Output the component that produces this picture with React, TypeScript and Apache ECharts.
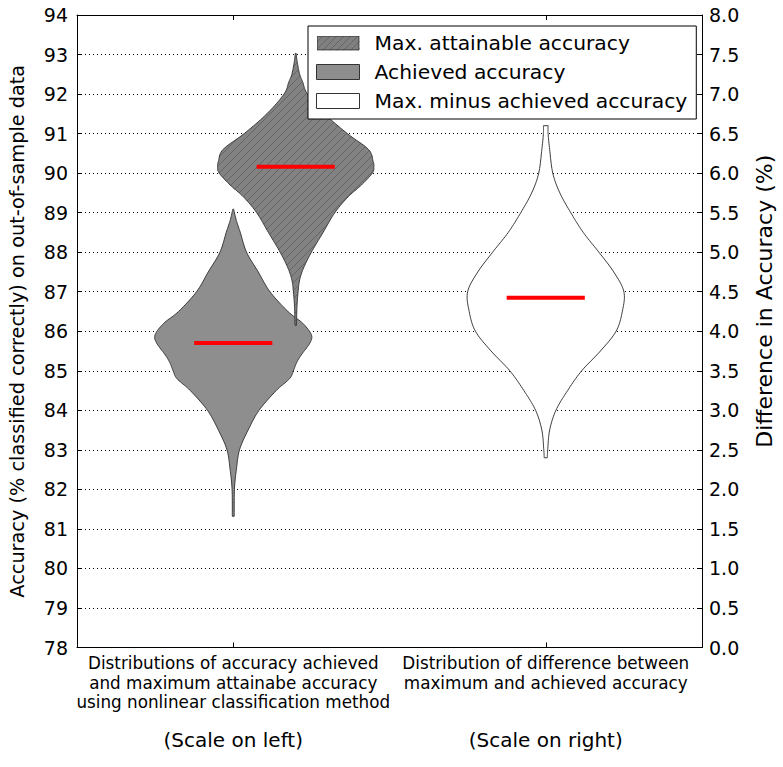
import React, { useEffect, useRef } from 'react';
import * as echarts from 'echarts';

const categories = [
  'Distributions of accuracy achieved\nand maximum attainabe accuracy\nusing nonlinear classification method',
  'Distribution of difference between\nmaximum and achieved accuracy',
];
const scaleNotes = ['(Scale on left)', '(Scale on right)'];
const seriesNames = ['Max. attainable accuracy', 'Achieved accuracy', 'Max. minus achieved accuracy'];

const leftMin = 78;
const leftMax = 94;
const leftStep = 1;
const rightMin = 0;
const rightMax = 8;
const rightStep = 0.5;

// violin outlines: value, relative half-width (1 = widest)
const maxAttainableValues = [93.03, 92.8, 92.5, 92.3, 92.0, 91.5, 91.0, 90.6, 90.3, 90.16, 90.0, 89.7, 89.4, 89.0, 88.5, 88.0, 87.6, 87.3, 87.0, 86.6, 86.15];
const maxAttainableWidths = [0.005, 0.02, 0.05, 0.09, 0.15, 0.37, 0.66, 0.93, 0.99, 1.0, 0.98, 0.84, 0.67, 0.5, 0.35, 0.2, 0.1, 0.05, 0.03, 0.015, 0.01];
const maxAttainableMedian = 90.16;

const achievedValues = [89.09, 88.8, 88.5, 88.0, 87.5, 87.0, 86.5, 86.2, 85.91, 85.7, 85.4, 85.2, 85.0, 84.8, 84.5, 84.0, 83.5, 83.0, 82.5, 82.0, 81.32];
const achievedWidths = [0.005, 0.04, 0.09, 0.17, 0.32, 0.47, 0.7, 0.89, 1.0, 0.98, 0.87, 0.81, 0.77, 0.72, 0.55, 0.33, 0.19, 0.08, 0.04, 0.015, 0.012];
const achievedMedian = 85.7;

const diffValues = [6.6, 6.5, 6.3, 6.0, 5.75, 5.5, 5.25, 5.0, 4.75, 4.5, 4.25, 4.0, 3.75, 3.5, 3.25, 3.0, 2.75, 2.5, 2.4];
const diffWidths = [0.03, 0.03, 0.05, 0.09, 0.18, 0.32, 0.48, 0.68, 0.87, 1.0, 0.98, 0.9, 0.7, 0.46, 0.28, 0.13, 0.05, 0.025, 0.02];
const diffMedian = 4.425;

const FONT = 'DejaVu Sans';

function smoothProfile(pts: number[][], steps = 10) {
  const out: number[][] = [];
  const n = pts.length;
  for (let i = 0; i < n - 1; i++) {
    const p0 = pts[Math.max(i - 1, 0)];
    const p1 = pts[i];
    const p2 = pts[i + 1];
    const p3 = pts[Math.min(i + 2, n - 1)];
    for (let s = 0; s < steps; s++) {
      const t = s / steps;
      const t2 = t * t;
      const t3 = t2 * t;
      const f = (a: number, b: number, c: number, d: number) =>
        0.5 * (2 * b + (-a + c) * t + (2 * a - 5 * b + 4 * c - d) * t2 + (-a + 3 * b - 3 * c + d) * t3);
      out.push([f(p0[0], p1[0], p2[0], p3[0]), Math.max(0, f(p0[1], p1[1], p2[1], p3[1]))]);
    }
  }
  out.push(pts[n - 1]);
  return out;
}

function hatchLines(poly: number[][], step: number) {
  let minS = Infinity;
  let maxS = -Infinity;
  poly.forEach((p) => {
    const s = p[0] + p[1];
    if (s < minS) minS = s;
    if (s > maxS) maxS = s;
  });
  const lines: any[] = [];
  for (let c = Math.ceil(minS / step) * step; c <= maxS; c += step) {
    const xs: number[][] = [];
    for (let i = 0; i < poly.length; i++) {
      const a = poly[i];
      const b = poly[(i + 1) % poly.length];
      const fa = a[0] + a[1] - c;
      const fb = b[0] + b[1] - c;
      if (fa < 0 !== fb < 0) {
        const t = fa / (fa - fb);
        xs.push([a[0] + (b[0] - a[0]) * t, a[1] + (b[1] - a[1]) * t]);
      }
    }
    xs.sort((p, q) => p[0] - q[0]);
    for (let k = 0; k + 1 < xs.length; k += 2) {
      lines.push({
        type: 'line',
        shape: { x1: xs[k][0], y1: xs[k][1], x2: xs[k + 1][0], y2: xs[k + 1][1] },
        style: { stroke: '#5e5e5e', lineWidth: 0.8 },
        silent: true,
      });
    }
  }
  return lines;
}

function violinSeries(
  name: string,
  values: number[],
  widths: number[],
  median: number,
  cat: number,
  offsetFrac: number,
  yAxisIndex: number,
  fill: string,
  hatched: boolean,
  z: number
) {
  return {
    type: 'custom',
    name,
    xAxisIndex: 0,
    yAxisIndex,
    z,
    clip: false,
    itemStyle: { color: fill, borderColor: '#333', borderWidth: 1 },
    data: [[cat, median]],
    renderItem: (params: any, api: any) => {
      const c = api.value(0);
      const band = api.size([1, 0])[0];
      const center = api.coord([c, median]);
      const cx = center[0] + offsetFrac * band;
      const maxHw = band * 0.25;
      const prof = values.map((v, i) => [api.coord([c, v])[1], widths[i]]);
      const sm = smoothProfile(prof);
      const left = sm.map((p) => [cx - p[1] * maxHw, p[0]]);
      const right = sm.map((p) => [cx + p[1] * maxHw, p[0]]).reverse();
      const poly = left.concat(right);
      const children: any[] = [
        {
          type: 'polygon',
          shape: { points: poly },
          style: { fill, stroke: 'none' },
        },
      ];
      if (hatched) children.push(...hatchLines(poly, 8));
      children.push({
        type: 'polygon',
        shape: { points: poly },
        style: { fill: 'none', stroke: '#3a3a3a', lineWidth: 1 },
      });
      children.push({
        type: 'line',
        shape: { x1: cx - maxHw * 0.5, y1: center[1], x2: cx + maxHw * 0.5, y2: center[1] },
        style: { stroke: '#ff0000', lineWidth: 4 },
      });
      return { type: 'group', children };
    },
  };
}

function hatchIcon() {
  let lines = '';
  for (let c = -15; c < 60; c += 7) {
    lines += `<line x1="${c}" y1="15" x2="${c + 15}" y2="0" stroke="#5e5e5e" stroke-width="0.8"/>`;
  }
  const svg = `<svg xmlns="http://www.w3.org/2000/svg" width="43" height="15" viewBox="0 0 43 15"><rect x="0" y="0" width="43" height="15" fill="#808080"/>${lines}<rect x="0.5" y="0.5" width="42" height="14" fill="none" stroke="#333" stroke-width="1"/></svg>`;
  return 'image://data:image/svg+xml;charset=utf-8,' + encodeURIComponent(svg);
}

export default function App() {
  const ref = useRef<HTMLDivElement>(null);
  useEffect(() => {
    if (!ref.current) return;
    const chart = echarts.init(ref.current, null, { renderer: 'svg' });
    const axisLine = { show: true, lineStyle: { color: '#000', width: 1 } };
    const tick = { show: true, inside: true, length: 5, lineStyle: { color: '#000', width: 1 } };
    chart.setOption({
      animation: false,
      backgroundColor: '#fff',
      grid: { left: 76, top: 15, right: 78, bottom: 106, containLabel: false },
      legend: {
        orient: 'vertical',
        left: 308,
        top: 26,
        padding: [7, 9, 8, 8],
        itemWidth: 43,
        itemHeight: 15,
        itemGap: 9,
        backgroundColor: '#fff',
        borderColor: '#000',
        borderWidth: 1,
        borderRadius: 0,
        selectedMode: false,
        textStyle: { fontSize: 20.3, fontFamily: FONT, color: '#000', lineHeight: 20, padding: [0, 0, 0, 10] },
        data: [
          { name: seriesNames[0], icon: hatchIcon() },
          { name: seriesNames[1], icon: 'rect', itemStyle: { color: '#8e8e8e', borderColor: '#333', borderWidth: 1 } },
          { name: seriesNames[2], icon: 'rect', itemStyle: { color: '#fff', borderColor: '#333', borderWidth: 1 } },
        ],
      },
      xAxis: [
        {
          type: 'category',
          data: categories,
          position: 'bottom',
          boundaryGap: true,
          axisLine,
          axisTick: { ...tick, alignWithLabel: true },
          splitLine: { show: false },
          axisLabel: {
            interval: 0,
            margin: 6,
            color: '#000',
            fontFamily: FONT,
            fontSize: 16.8,
            lineHeight: 19.5,
            formatter: (v: string, i: number) => {
              const lines = v.split('\n');
              while (lines.length < 3) lines.push(' ');
              return `${lines.join('\n')}\n{s|${scaleNotes[i]}}`;
            },
            rich: { s: { fontFamily: FONT, fontSize: 20, lineHeight: 55, color: '#000' } },
          },
        },
        {
          type: 'category',
          data: categories,
          position: 'top',
          boundaryGap: true,
          axisLine,
          axisTick: { ...tick, alignWithLabel: true },
          axisLabel: { show: false },
          splitLine: { show: false },
        },
      ],
      yAxis: [
        {
          type: 'value',
          position: 'left',
          min: leftMin,
          max: leftMax,
          interval: leftStep,
          axisLine,
          axisTick: tick,
          axisLabel: { color: '#000', fontFamily: FONT, fontSize: 19, margin: 9 },
          splitLine: { show: true, lineStyle: { color: '#000', width: 1, type: [1, 3] } },
          name: 'Accuracy (% classified correctly) on out-of-sample data',
          nameLocation: 'middle',
          nameRotate: 90,
          nameGap: 50,
          nameTextStyle: { color: '#000', fontFamily: FONT, fontSize: 19.3 },
        },
        {
          type: 'value',
          position: 'right',
          min: rightMin,
          max: rightMax,
          interval: rightStep,
          axisLine,
          axisTick: tick,
          axisLabel: { color: '#000', fontFamily: FONT, fontSize: 19, margin: 7, formatter: (v: number) => v.toFixed(1) },
          splitLine: { show: false },
          name: 'Difference in Accuracy (%)',
          nameLocation: 'middle',
          nameRotate: 90,
          nameGap: 51,
          nameTextStyle: { color: '#000', fontFamily: FONT, fontSize: 22, padding: [0, 0, 0, 60] },
        },
      ],
      series: [
        violinSeries(seriesNames[1], achievedValues, achievedWidths, achievedMedian, 0, 0, 0, '#8e8e8e', false, 2),
        violinSeries(seriesNames[0], maxAttainableValues, maxAttainableWidths, maxAttainableMedian, 0, 0.2, 0, '#828282', true, 3),
        violinSeries(seriesNames[2], diffValues, diffWidths, diffMedian, 1, 0, 1, '#ffffff', false, 2),
      ],
    });
    return () => chart.dispose();
  }, []);
  return <div ref={ref} style={{ position: 'absolute', left: 0, top: 0, width: 783, height: 767 }} />;
}
